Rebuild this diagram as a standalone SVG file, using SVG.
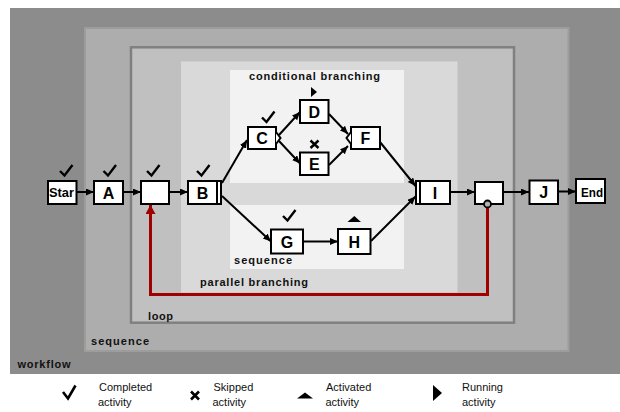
<svg xmlns="http://www.w3.org/2000/svg" width="620" height="412" viewBox="0 0 620 412">
<defs>
<style>
.node{fill:#fff;stroke:#000;stroke-width:2}
.lbl{font-family:"Liberation Sans",Arial,sans-serif;font-size:16px;font-weight:bold;fill:#000;text-anchor:middle}
.small{font-family:"Liberation Sans",Arial,sans-serif;font-size:13px;font-weight:bold;fill:#000}
.reg{font-family:"Liberation Sans",Arial,sans-serif;font-size:11px;font-weight:bold;fill:#111}
.leg{font-family:"Liberation Sans",Arial,sans-serif;font-size:11px;fill:#111}
.conn{stroke:#000;stroke-width:2;fill:none;marker-end:url(#ah)}
.chk{fill:none;stroke:#000;stroke-width:2.4;stroke-linejoin:miter}
</style>
<marker id="ah" markerUnits="userSpaceOnUse" markerWidth="9" markerHeight="8" refX="8" refY="3.5" orient="auto">
<path d="M0,0 L8,3.5 L0,7 z" fill="#000"/>
</marker>
<marker id="rh" markerUnits="userSpaceOnUse" markerWidth="11" markerHeight="10" refX="9" refY="5" orient="auto">
<path d="M0,0 L9,5 L0,10 z" fill="#a00000"/>
</marker>
<path id="check" d="M0,6 L4.5,10.5 L12.5,0"/>
</defs>

<g id="regions">
<rect x="10" y="8" width="610" height="366" fill="#8c8c8c"/>
<rect x="85" y="28" width="483.5" height="323" fill="#adadad" stroke="#9d9d9d" stroke-width="2"/>
<rect x="131" y="47.3" width="383" height="275.4" fill="#c0c0c0" stroke="#808080" stroke-width="2.5"/>
<rect x="181" y="61.5" width="276.5" height="231" fill="#d9d9d9"/>
<rect x="230" y="70" width="174" height="113" fill="#f2f2f2"/>
<rect x="230" y="205" width="174" height="64" fill="#f2f2f2"/>
<text class="reg" x="249" y="80" textLength="131" lengthAdjust="spacing">conditional branching</text>
<text class="reg" x="234" y="264" textLength="58" lengthAdjust="spacing">sequence</text>
<text class="reg" x="200" y="286" textLength="108" lengthAdjust="spacing">parallel branching</text>
<text class="reg" x="148" y="319.5" textLength="25" lengthAdjust="spacing">loop</text>
<text class="reg" x="91" y="344.5" textLength="58" lengthAdjust="spacing">sequence</text>
<text class="reg" x="17.5" y="367.5" textLength="53" lengthAdjust="spacing">workflow</text>
</g>

<g id="connectors">
<line class="conn" x1="76" y1="192" x2="94" y2="192"/>
<line class="conn" x1="123" y1="192" x2="141" y2="192"/>
<line class="conn" x1="169" y1="192" x2="188" y2="192"/>
<line class="conn" x1="222" y1="183" x2="247" y2="140"/>
<line class="conn" x1="222" y1="196" x2="271" y2="241.5"/>
<line class="conn" x1="279" y1="135" x2="300" y2="112"/>
<line class="conn" x1="279" y1="141" x2="300" y2="163.5"/>
<line class="conn" x1="329" y1="114" x2="348" y2="134"/>
<line class="conn" x1="329" y1="165" x2="348" y2="146"/>
<line class="conn" x1="380" y1="142" x2="415.5" y2="186"/>
<line class="conn" x1="303" y1="241.5" x2="338" y2="241.5"/>
<line class="conn" x1="371" y1="241" x2="415.5" y2="196.5"/>
<line class="conn" x1="450" y1="192" x2="475" y2="192"/>
<line class="conn" x1="503" y1="192" x2="529" y2="192"/>
<line class="conn" x1="558" y1="191.5" x2="576" y2="191.5"/>
<path d="M487.5,207 V294.5 H150.5 V205" fill="none" stroke="#a00000" stroke-width="3" marker-end="url(#rh)"/>
</g>

<g id="node-start">
<rect class="node" x="48" y="181" width="28.5" height="23"/>
<text class="small" x="49" y="197" textLength="25" lengthAdjust="spacingAndGlyphs">Star</text>
<use href="#check" class="chk" x="60" y="165"/>
</g>
<g id="node-a">
<rect class="node" x="94" y="181" width="29" height="23"/>
<text class="lbl" x="108.5" y="198.5">A</text>
<use href="#check" class="chk" x="103.5" y="165"/>
</g>
<g id="node-loopstart">
<rect class="node" x="141" y="181" width="28" height="23"/>
<use href="#check" class="chk" x="147" y="165"/>
</g>
<g id="node-b">
<rect class="node" x="188" y="181" width="29" height="23"/>
<rect class="node" x="217" y="181" width="4" height="23"/>
<text class="lbl" x="202.5" y="198.5">B</text>
<use href="#check" class="chk" x="197" y="165"/>
</g>
<g id="node-c">
<rect class="node" x="248" y="127" width="28" height="22"/>
<path class="node" d="M276,132 L280.5,138 L276,144"/>
<text class="lbl" x="262" y="144">C</text>
<use href="#check" class="chk" x="262" y="111.5"/>
</g>
<g id="node-d">
<rect class="node" x="300" y="100" width="28.5" height="23"/>
<text class="lbl" x="314.3" y="117.5">D</text>
<path d="M311,87 L317,92 L311,97 z" fill="#000"/>
</g>
<g id="node-e">
<rect class="node" x="300" y="152.5" width="28.5" height="22.5"/>
<text class="lbl" x="314.3" y="170">E</text>
<path d="M310.5,140.5 L318.5,148 M318.5,140.5 L310.5,148" stroke="#000" stroke-width="2.4"/>
</g>
<g id="node-f">
<rect class="node" x="351" y="127" width="29" height="22"/>
<path class="node" d="M351,132 L346.5,138 L351,144"/>
<text class="lbl" x="365.5" y="144">F</text>
</g>
<g id="node-g">
<rect class="node" x="271" y="229.5" width="32" height="24"/>
<text class="lbl" x="287" y="247.5">G</text>
<use href="#check" class="chk" x="283" y="210"/>
</g>
<g id="node-h">
<rect class="node" x="338" y="229" width="32.5" height="25"/>
<text class="lbl" x="354.3" y="247.5">H</text>
<path d="M347.5,222 L354.3,216 L361,222 z" fill="#000"/>
</g>
<g id="node-i">
<rect class="node" x="416" y="181" width="4" height="23"/>
<rect class="node" x="420" y="181" width="30" height="23"/>
<text class="lbl" x="435" y="198.5">I</text>
</g>
<g id="node-loopend">
<rect class="node" x="475" y="182" width="28" height="22"/>
<circle cx="487.5" cy="204" r="3.5" fill="#b0b0b0" stroke="#000" stroke-width="1.8"/>
</g>
<g id="node-j">
<rect class="node" x="529.5" y="180.5" width="28.5" height="23.5"/>
<text class="lbl" x="543.8" y="198">J</text>
</g>
<g id="node-end">
<rect class="node" x="576" y="179" width="29" height="24"/>
<text class="small" x="581" y="196.5" textLength="22" lengthAdjust="spacingAndGlyphs">End</text>
</g>

<g id="legend">
<path d="M63,392 L68,398.5 L75.5,385.5" fill="none" stroke="#000" stroke-width="2.6"/>
<text class="leg" x="99" y="391">Completed</text>
<text class="leg" x="98" y="406">activity</text>
<path d="M191,391.5 L199,399.5 M199,391.5 L191,399.5" stroke="#000" stroke-width="2.6"/>
<text class="leg" x="213.5" y="391">Skipped</text>
<text class="leg" x="212.5" y="406">activity</text>
<path d="M297,398.5 L305,392.5 L313,398.5 z" fill="#000"/>
<text class="leg" x="326" y="391">Activated</text>
<text class="leg" x="325.5" y="406">activity</text>
<path d="M433,385 L442,393 L433,401 z" fill="#000"/>
<text class="leg" x="462" y="391">Running</text>
<text class="leg" x="462" y="406">activity</text>
</g>
</svg>
